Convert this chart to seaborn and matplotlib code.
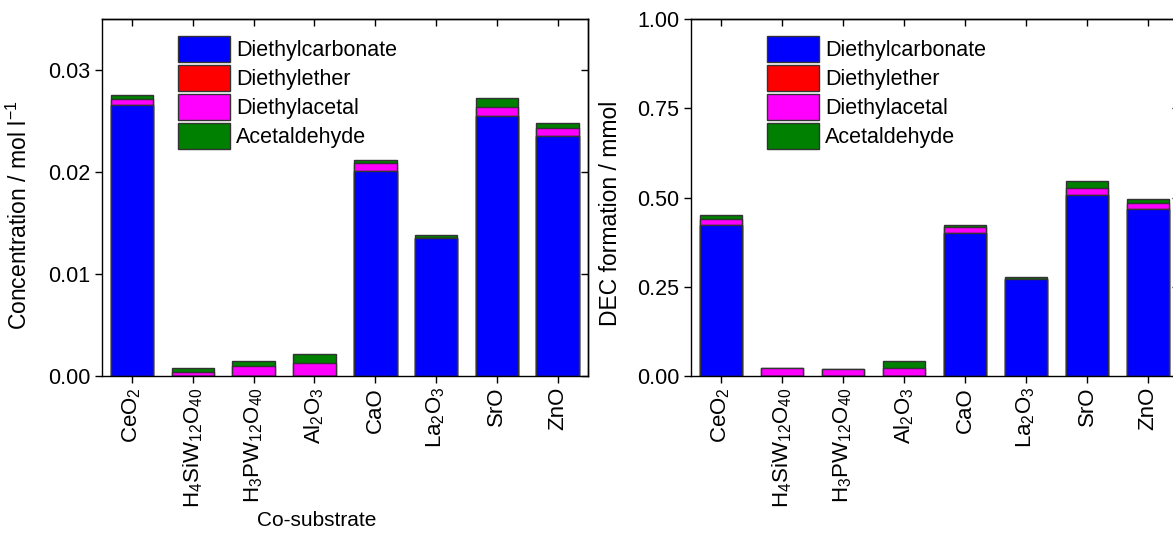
import numpy as np
import pandas as pd
import matplotlib
matplotlib.use("Agg")
import matplotlib.pyplot as plt
from matplotlib.ticker import FormatStrFormatter, NullFormatter
import seaborn as sns

# ---- data -------------------------------------------------------------
catalysts = ["CeO2", "H4SiW12O40", "H3PW12O40", "Al2O3", "CaO", "La2O3", "SrO", "ZnO"]
tick_labels = [r"CeO$_2$", r"H$_4$SiW$_{12}$O$_{40}$", r"H$_3$PW$_{12}$O$_{40}$",
               r"Al$_2$O$_3$", "CaO", r"La$_2$O$_3$", "SrO", "ZnO"]
series_names = ["Diethylcarbonate", "Diethylether", "Diethylacetal", "Acetaldehyde"]
series_colors = ["#0000ff", "#ff0000", "#ff00ff", "#008000"]

# product concentrations, mol/l
conc_dec = [0.0266, 0.0, 0.0, 0.0, 0.0201, 0.0135, 0.0255, 0.0235]
conc_ether = [0.0, 0.0, 0.0, 0.0, 0.0, 0.0, 0.0, 0.0]
conc_acetal = [0.0006, 0.0004, 0.0010, 0.0012, 0.0008, 0.0, 0.00085, 0.0008]
conc_aldehyde = [0.0004, 0.00036, 0.00044, 0.0009, 0.0003, 0.0003, 0.0009, 0.0005]

# product amounts, mmol
mmol_dec = [0.422, 0.0, 0.0, 0.0, 0.401, 0.271, 0.508, 0.469]
mmol_ether = [0.0, 0.0, 0.0, 0.0, 0.0, 0.0, 0.0, 0.0]
mmol_acetal = [0.018, 0.0215, 0.0196, 0.023, 0.015, 0.0, 0.018, 0.015]
mmol_aldehyde = [0.010, 0.0, 0.0, 0.019, 0.006, 0.005, 0.019, 0.011]

# ---- style ------------------------------------------------------------
sns.set_theme(style="ticks", rc={
    "axes.edgecolor": "black", "axes.labelcolor": "black", "text.color": "black",
    "xtick.color": "black", "ytick.color": "black", "axes.linewidth": 1.0,
})
plt.rcParams["font.family"] = ["Liberation Sans", "DejaVu Sans"]
plt.rcParams["mathtext.fontset"] = "custom"
plt.rcParams["mathtext.rm"] = "Liberation Sans"
plt.rcParams["mathtext.it"] = "Liberation Sans:italic"
plt.rcParams["mathtext.bf"] = "Liberation Sans:bold"

FS_TICK = 15.5
FS_XTICK = 16
FS_LEG = 15.5
FS_LABEL = 16.5
EDGE = "#333333"

fig = plt.figure(figsize=(11.73, 5.33), dpi=100)
ax1 = fig.add_axes([0.0867, 0.2951, 0.4146, 0.6687])
ax2 = fig.add_axes([0.5887, 0.2951, 0.4160, 0.6687])


def stacked_bars(ax, layers):
    """Stack the product layers by overdrawing cumulative totals."""
    cum = np.cumsum(np.array(layers, dtype=float), axis=0)
    conts = {}
    for i in reversed(range(len(layers))):
        df = pd.DataFrame({"catalyst": catalysts, "value": cum[i]})
        sns.barplot(data=df, x="catalyst", y="value", order=catalysts,
                    color=series_colors[i], saturation=1, width=0.7,
                    edgecolor=EDGE, linewidth=1.0, errorbar=None, ax=ax)
        conts[i] = ax.containers[-1]
    return [conts[i] for i in range(len(layers))]


def style_axis(ax, yticks, ymax):
    ax.set_xlim(-0.5, len(catalysts) - 0.5)
    ax.set_ylim(0, ymax)
    ax.set_yticks(yticks)
    ax.yaxis.set_major_formatter(FormatStrFormatter("%.2f"))
    ax.set_xticks(range(len(catalysts)))
    ax.set_xticklabels(tick_labels, rotation=90)
    ax.tick_params(direction="out", length=5, width=1, labelsize=FS_TICK, pad=3)
    ax.tick_params(axis="x", labelsize=FS_XTICK)
    # mirrored ticks pointing inward on the top and right sides
    top = ax.secondary_xaxis("top")
    top.set_xticks(range(len(catalysts)))
    top.xaxis.set_major_formatter(NullFormatter())
    top.tick_params(direction="in", length=5, width=1)
    right = ax.secondary_yaxis("right")
    right.set_yticks(yticks)
    right.yaxis.set_major_formatter(NullFormatter())
    right.tick_params(direction="in", length=5, width=1)


def add_legend(ax, handles):
    ax.legend(handles, series_names, loc="upper left", bbox_to_anchor=(0.157, 0.953),
              frameon=False, borderpad=0, borderaxespad=0, fontsize=FS_LEG,
              handlelength=2.42, handleheight=1.45, labelspacing=0.16,
              handletextpad=0.28)


# left panel: concentrations
h1 = stacked_bars(ax1, [conc_dec, conc_ether, conc_acetal, conc_aldehyde])
style_axis(ax1, [0.0, 0.01, 0.02, 0.03], 0.035)
ax1.set_ylabel(r"Concentration / mol l$^{-1}$", fontsize=FS_LABEL)
ax1.yaxis.set_label_coords(-0.143, 0.449)
ax1.set_xlabel("Co-substrate", fontsize=15)
ax1.xaxis.set_label_coords(0.443, -0.38)
add_legend(ax1, h1)

# right panel: amounts
h2 = stacked_bars(ax2, [mmol_dec, mmol_ether, mmol_acetal, mmol_aldehyde])
style_axis(ax2, [0.0, 0.25, 0.5, 0.75, 1.0], 1.0)
ax2.set_ylabel("DEC formation / mmol", fontsize=FS_LABEL)
ax2.yaxis.set_label_coords(-0.14, 0.456)
ax2.set_xlabel("")
add_legend(ax2, h2)

fig.savefig("out.png", dpi=100)
